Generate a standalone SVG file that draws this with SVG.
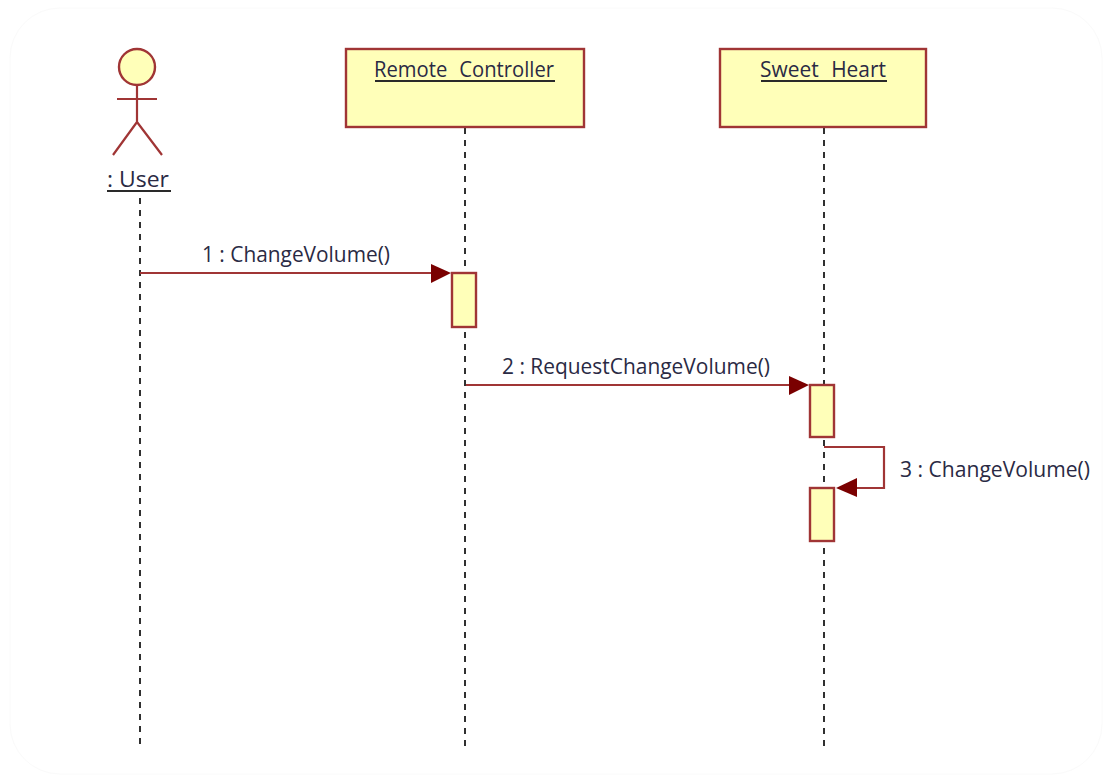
<svg xmlns="http://www.w3.org/2000/svg" width="1112" height="782" viewBox="0 0 1112 782">
<defs><style>
.box{fill:#ffffb9;stroke:#a03535;stroke-width:2.4}
.life{stroke:#303030;stroke-width:2;stroke-dasharray:6 6;fill:none}
.msg{stroke:#a03535;stroke-width:2.2;fill:none}
.lim{stroke:#a03535;stroke-width:2.2;fill:none}
.hd{fill:#7a0000;stroke:none}
text{font-family:"Open Sans","Noto Sans","Liberation Sans",sans-serif;font-size:21px;fill:#2a2a44}
.u{stroke:#2a2a2a;stroke-width:2}
</style></defs>
<rect x="10" y="8" width="1092" height="766" rx="50" fill="#fff" stroke="#fafafa" stroke-width="1"/>
<g id="lifelines">
<path class="life" d="M140 198V746"/>
<path class="life" d="M465 128V746"/>
<path class="life" d="M824 128V746"/>
</g>
<g id="node-user">
<circle class="box" cx="137" cy="67" r="18"/>
<path class="lim" d="M137 85V122M117 99H157M137 122L113 155M137 122L162 155"/>
<text x="107" y="187" textLength="62" lengthAdjust="spacingAndGlyphs">: User</text>
<path class="u" d="M107 191H171"/>
</g>
<g id="node-remote">
<rect class="box" x="346" y="49" width="238" height="78"/>
<text x="374" y="77" word-spacing="7" textLength="180" lengthAdjust="spacingAndGlyphs">Remote Controller</text>
<path class="u" d="M375 81H555"/>
</g>
<g id="node-sweet">
<rect class="box" x="720" y="49" width="206" height="78"/>
<text x="760" y="77" word-spacing="7" textLength="126" lengthAdjust="spacingAndGlyphs">Sweet Heart</text>
<path class="u" d="M761 81H887"/>
</g>
<g id="activations">
<rect class="box" x="452" y="273" width="24" height="54"/>
<rect class="box" x="810" y="385" width="24" height="52"/>
<rect class="box" x="810" y="488" width="24" height="53"/>
</g>
<g id="connectors">
<path class="msg" d="M140 273H435"/><path class="hd" d="M431 264L451 273L431 283Z"/>
<path class="msg" d="M466 385H792"/><path class="hd" d="M789 376L809 385L789 395Z"/>
<path class="msg" d="M824 447H884V488H850"/><path class="hd" d="M857 478L836 488L857 497Z"/>
</g>
<g id="labels">
<text x="202" y="262" textLength="188" lengthAdjust="spacingAndGlyphs">1 : ChangeVolume()</text>
<text x="502" y="374" textLength="268" lengthAdjust="spacingAndGlyphs">2 : RequestChangeVolume()</text>
<text x="900" y="477" textLength="190" lengthAdjust="spacingAndGlyphs">3 : ChangeVolume()</text>
</g>
</svg>
